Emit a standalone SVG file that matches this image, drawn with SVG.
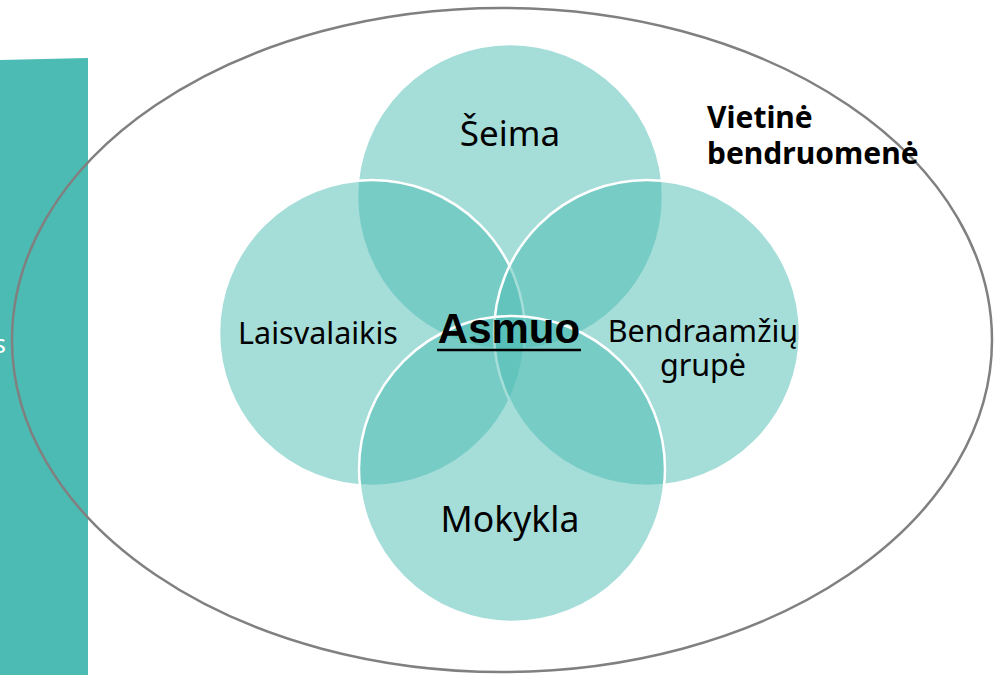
<svg xmlns="http://www.w3.org/2000/svg" width="994" height="675" viewBox="0 0 994 675">
<style>
.c{fill:#4CBBB3;fill-opacity:0.5;stroke:#fff;stroke-width:2.5}
.t{font-family:"Noto Sans","Open Sans",sans-serif;fill:#000;text-anchor:middle}
.b{font-family:"Noto Sans","Open Sans",sans-serif;font-weight:bold;fill:#000;font-size:30px}
</style>
<rect width="994" height="675" fill="#fff"/>
<g id="bar">
<polygon points="0,60 88,58 88,675 0,675" fill="#4CBBB3"/>
<text x="6" y="353" font-family="Noto Sans, sans-serif" font-size="26" fill="#fff" text-anchor="end">s</text>
</g>
<g id="community">
<ellipse cx="502" cy="340" rx="490" ry="332" fill="none" stroke="#808080" stroke-width="2.5"/>
<text class="b" x="707" y="128">Vietinė</text>
<text class="b" x="707" y="164">bendruomenė</text>
</g>
<g id="seima"><circle class="c" cx="510" cy="197" r="153"/></g>
<g id="laisvalaikis"><circle class="c" cx="372" cy="333" r="153"/></g>
<g id="bendraamziu"><circle class="c" cx="647" cy="333" r="153"/></g>
<g id="mokykla"><circle class="c" cx="512" cy="469" r="153"/></g>
<g id="labels">
<text class="t" x="510" y="146" font-size="35">Šeima</text>
<text class="t" x="318" y="344" font-size="30.5">Laisvalaikis</text>
<text class="t" x="703" y="342" font-size="30.5">Bendraamžių</text>
<text class="t" x="703" y="376" font-size="30.5">grupė</text>
<text class="t" x="510" y="532" font-size="35.5">Mokykla</text>
</g>
<g id="asmuo">
<text x="509" y="343" font-family="Liberation Sans, Arial, sans-serif" font-weight="bold" font-size="42" text-anchor="middle" fill="#000">Asmuo</text>
<line x1="437" y1="350" x2="581" y2="350" stroke="#000" stroke-width="2.5"/>
</g>
</svg>
